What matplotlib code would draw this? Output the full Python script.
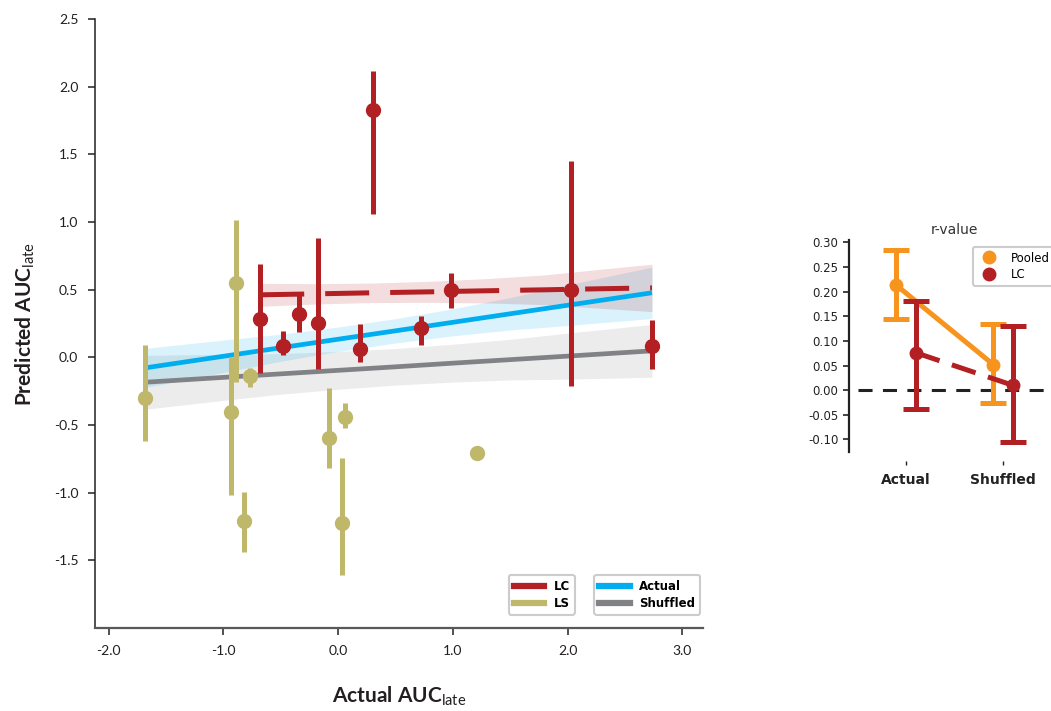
import numpy as np
import matplotlib
matplotlib.use("Agg")
import matplotlib.pyplot as plt

# -- data

# LC cells: actual vs predicted AUC (late), with error bar ends
lc_x = [-0.68, -0.48, -0.34, -0.175, 0.188, 0.303, 0.719, 0.986, 2.028, 2.735]
lc_y = [0.28, 0.081, 0.319, 0.254, 0.06, 1.83, 0.22, 0.501, 0.501, 0.081]
lc_lo = [-0.113, 0.015, 0.187, -0.084, -0.035, 1.059, 0.089, 0.361, -0.215, -0.084]
lc_hi = [0.69, 0.193, 0.476, 0.879, 0.249, 2.119, 0.304, 0.62, 1.447, 0.274]

# LS cells
ls_x = [-1.684, -0.934, -0.893, -0.77, -0.817, -0.078, 0.056, 0.03, 1.213]
ls_y = [-0.301, -0.405, 0.55, -0.135, -1.207, -0.595, -0.442, -1.224, -0.709]
ls_lo = [-0.615, -1.02, -0.183, -0.22, -1.435, -0.817, -0.524, -1.607, -0.709]
ls_hi = [0.089, 0.0, 1.017, -0.08, -0.993, -0.224, -0.339, -0.746, -0.709]

# regression fits and their confidence bands
fit_x = [-1.70, -1.0, -0.5, 0.0, 0.5, 1.0, 1.5, 2.0, 2.735]
actual_fit = [-0.080, 0.008, 0.071, 0.134, 0.196, 0.259, 0.322, 0.385, 0.477]
actual_lo = [-0.225, -0.112, -0.029, 0.044, 0.106, 0.159, 0.202, 0.235, 0.287]
actual_hi = [0.065, 0.128, 0.171, 0.224, 0.286, 0.359, 0.442, 0.535, 0.667]
shuffled_fit = [-0.185, -0.148, -0.122, -0.096, -0.070, -0.043, -0.017, 0.009, 0.048]
shuffled_lo = [-0.385, -0.318, -0.272, -0.236, -0.205, -0.183, -0.167, -0.161, -0.147]
shuffled_hi = [0.015, 0.022, 0.028, 0.044, 0.065, 0.097, 0.133, 0.179, 0.243]

lcfit_x = [-0.68, -0.2, 0.3, 0.8, 1.3, 1.8, 2.3, 2.735]
lc_fit = [0.462, 0.469, 0.477, 0.484, 0.492, 0.499, 0.507, 0.513]
lc_fit_lo = [0.377, 0.394, 0.405, 0.406, 0.402, 0.389, 0.362, 0.338]
lc_fit_hi = [0.547, 0.544, 0.549, 0.562, 0.582, 0.609, 0.652, 0.688]

# r-value inset
groups = ['Actual', 'Shuffled']
pooled_r = [0.213, 0.052]
pooled_r_lo = [0.145, -0.027]
pooled_r_hi = [0.284, 0.135]
lc_r = [0.076, 0.010]
lc_r_lo = [-0.039, -0.105]
lc_r_hi = [0.181, 0.131]

xticks = [-2.0, -1.0, 0.0, 1.0, 2.0, 3.0]
yticks = [-1.5, -1.0, -0.5, 0.0, 0.5, 1.0, 1.5, 2.0, 2.5]
r_ticks = [-0.10, -0.05, 0.0, 0.05, 0.10, 0.15, 0.20, 0.25, 0.30]

RED = '#b22024'
OLIVE = '#bfb86b'
BLUE = '#00aeef'
GRAY = '#808285'
ORANGE = '#f7941d'
DARK = '#231f20'

# subscripts "late" in the same humanist face as the labels
plt.rcParams['mathtext.fontset'] = 'custom'
plt.rcParams['mathtext.rm'] = 'Lato'
plt.rcParams['mathtext.it'] = 'Lato:italic'
plt.rcParams['mathtext.bf'] = 'Lato:bold'

fig = plt.figure(figsize=(10.51, 7.11), dpi=100)

# -- main scatter
ax = fig.add_axes([0.0904, 0.1167, 0.5785, 0.8566])

ax.fill_between(fit_x, shuffled_lo, shuffled_hi, color=GRAY, alpha=0.15, lw=0)
ax.fill_between(fit_x, actual_lo, actual_hi, color=BLUE, alpha=0.15, lw=0)
ax.fill_between(lcfit_x, lc_fit_lo, lc_fit_hi, color=RED, alpha=0.15, lw=0)

ax.plot(fit_x, shuffled_fit, color=GRAY, lw=3.4, solid_capstyle='butt')
ax.plot(fit_x, actual_fit, color=BLUE, lw=3.4, solid_capstyle='butt')
ax.plot(lcfit_x, lc_fit, color=RED, lw=3.6, dashes=(8.8, 4.2))

ls_err = [np.array(ls_y) - np.array(ls_lo), np.array(ls_hi) - np.array(ls_y)]
ax.errorbar(ls_x, ls_y, yerr=ls_err, fmt='o', color=OLIVE, ms=10,
            elinewidth=3.6, capsize=0, zorder=4)
lc_err = [np.array(lc_y) - np.array(lc_lo), np.array(lc_hi) - np.array(lc_y)]
ax.errorbar(lc_x, lc_y, yerr=lc_err, fmt='o', color=RED, ms=10,
            elinewidth=3.6, capsize=0, zorder=5)

ax.set_xlim(-2.12, 3.18)
ax.set_ylim(-2.0, 2.5)
ax.set_xticks(xticks)
ax.set_xticklabels(['%.1f' % t for t in xticks])
ax.set_yticks(yticks)
ax.set_yticklabels(['%.1f' % t for t in yticks])
ax.tick_params(axis='both', direction='out', length=5, width=1.1,
               colors=DARK, labelsize=10)
ax.tick_params(axis='x', pad=7)
ax.tick_params(axis='y', pad=7)
for lab in ax.get_xticklabels() + ax.get_yticklabels():
    lab.set_family('Lato')
for s in ['top', 'right']:
    ax.spines[s].set_visible(False)
ax.spines['left'].set_color(DARK)
ax.spines['left'].set_linewidth(1.1)
ax.spines['bottom'].set_color('#58595b')
ax.spines['bottom'].set_linewidth(1.6)

ax.set_xlabel('Actual AUC$_{\\rm late}$', fontsize=15, fontweight='bold',
              family='Lato', labelpad=20, color=DARK)
ax.set_ylabel('Predicted AUC$_{\\rm late}$', fontsize=15, fontweight='bold',
              family='Lato', labelpad=12, color=DARK)

h_lc, = ax.plot([], [], color=RED, lw=4.5, label='LC')
h_ls, = ax.plot([], [], color=OLIVE, lw=4.5, label='LS')
h_ac, = ax.plot([], [], color=BLUE, lw=4.5, label='Actual')
h_sh, = ax.plot([], [], color=GRAY, lw=4.5, label='Shuffled')
leg1 = ax.legend(handles=[h_lc, h_ls], loc='lower right',
                 bbox_to_anchor=(0.789, 0.022), borderaxespad=0,
                 prop={'weight': 'bold', 'size': 8.5}, handlelength=2.6,
                 labelspacing=0.35, edgecolor='#cccccc', framealpha=1)
leg1.get_frame().set_linewidth(1.5)
ax.add_artist(leg1)
leg2 = ax.legend(handles=[h_ac, h_sh], loc='lower right',
                 bbox_to_anchor=(0.995, 0.022), borderaxespad=0,
                 prop={'weight': 'bold', 'size': 8.5}, handlelength=2.6,
                 labelspacing=0.35, edgecolor='#cccccc', framealpha=1)
leg2.get_frame().set_linewidth(1.5)

# -- r-value inset
ax2 = fig.add_axes([0.8078, 0.3647, 0.2, 0.2977])
# spine changes reset the ticks, so do them first
for s in ['top', 'right']:
    ax2.spines[s].set_visible(False)
ax2.spines['bottom'].set_position(('outward', 7))
ax2.spines['bottom'].set_visible(False)
ax2.spines['left'].set_linewidth(1.6)
ax2.spines['left'].set_color('#222222')

pos = np.arange(len(groups))

ax2.axhline(0, xmin=0.043, color='#222222', lw=2.2, dashes=(4.6, 3.4), zorder=1)

p_err = [np.array(pooled_r) - np.array(pooled_r_lo),
         np.array(pooled_r_hi) - np.array(pooled_r)]
ax2.errorbar(pos - 0.1, pooled_r, yerr=p_err, fmt='-o', color=ORANGE,
             ms=9, lw=3.6, elinewidth=3.6, capsize=9.5, capthick=3.6, zorder=3)
l_err = [np.array(lc_r) - np.array(lc_r_lo), np.array(lc_r_hi) - np.array(lc_r)]
ax2.errorbar(pos + 0.1, lc_r, yerr=l_err, fmt='o', color=RED,
             ms=9, elinewidth=3.6, capsize=9.5, capthick=3.6, zorder=4)
ax2.plot(pos + 0.1, lc_r, color=RED, lw=3.6, dashes=(5, 2.6), zorder=4)

ax2.set_xlim(-0.59, 1.58)
ax2.set_ylim(-0.125, 0.305)
ax2.set_xticks(pos)
ax2.set_xticklabels(groups, fontweight='bold', fontsize=10)
ax2.set_yticks(r_ticks)
ax2.set_yticklabels(['%.2f' % t for t in r_ticks])
ax2.tick_params(axis='y', labelsize=8.5, length=4, width=1.2, colors='#222222')
ax2.tick_params(axis='x', length=3, width=1, colors='#222222', pad=5)
ax2.set_title('r-value', fontsize=10, color='#333333', pad=4)

leg3 = ax2.legend(handles=[ax2.plot([], [], 'o', color=ORANGE, ms=9)[0],
                           ax2.plot([], [], 'o', color=RED, ms=9)[0]],
                  labels=['Pooled', 'LC'], loc='upper left',
                  bbox_to_anchor=(0.589, 0.968), borderaxespad=0,
                  fontsize=8.5, handletextpad=0.8, labelspacing=0.3,
                  edgecolor='#cccccc', framealpha=1)
leg3.get_frame().set_linewidth(1.5)

fig.savefig('out.png', dpi=100)
